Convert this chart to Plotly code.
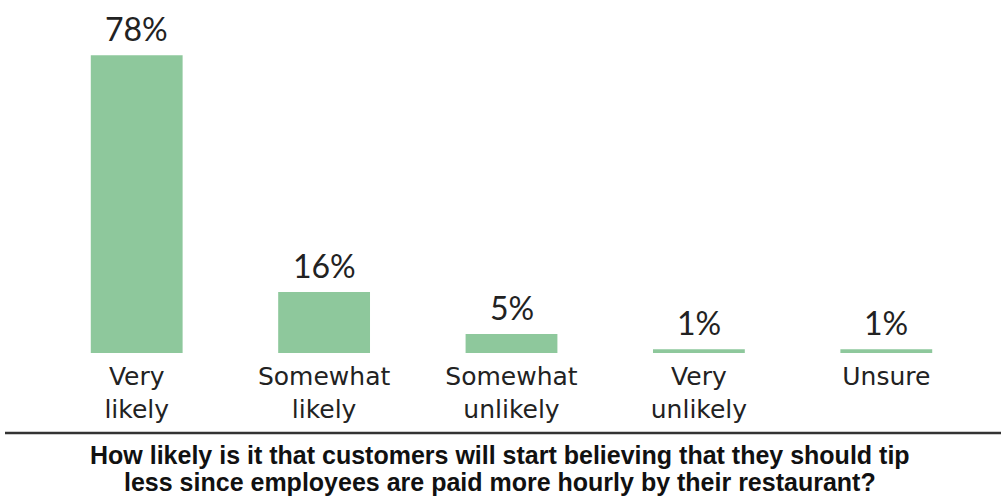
import plotly.graph_objects as go

categories = ["Very<br>likely", "Somewhat<br>likely", "Somewhat<br>unlikely", "Very<br>unlikely", "Unsure"]
values = [78, 16, 5, 1, 1]
value_labels = ["78%", "16%", "5%", "1%", "1%"]
title_lines = ["How likely is it that customers will start believing that they should tip",
               "less since employees are paid more hourly by their restaurant?"]

W, H = 1001, 497
ML, MR, MT, MB = 43, 21, 20, 144
BAR_COLOR = "#8ec89c"
TEXT_COLOR = "#222222"
LABEL_FONT = "DejaVu Sans, sans-serif"
VALUE_FONT = "Lato, sans-serif"
TITLE_FONT = "Liberation Sans, Arial, sans-serif"

fig = go.Figure()
fig.add_trace(go.Bar(
    x=categories, y=values, width=0.49,
    marker=dict(color=BAR_COLOR, line=dict(width=0)),
    hoverinfo="skip",
))

for c, v, t in zip(categories, values, value_labels):
    fig.add_annotation(x=c, y=v, text=t, showarrow=False, yanchor="bottom",
                       yshift=5, font=dict(family=VALUE_FONT, size=32, color=TEXT_COLOR))

plot_h = H - MT - MB
plot_w = W - ML - MR
base_px = H - MB


def py(px):
    return (base_px - px) / plot_h


fig.add_shape(type="line", xref="paper", yref="paper",
              x0=-(ML - 5) / plot_w, x1=(W - ML) / plot_w,
              y0=py(433), y1=py(433),
              line=dict(color="#333333", width=2.5))

for line, cy in zip(title_lines, [455, 482]):
    fig.add_annotation(xref="paper", yref="paper", x=(500 - ML) / plot_w, y=py(cy),
                       text="<b>" + line + "</b>", showarrow=False,
                       xanchor="center", yanchor="middle",
                       font=dict(family=TITLE_FONT, size=25, color="#111111"))

fig.update_layout(
    width=W, height=H,
    margin=dict(l=ML, r=MR, t=MT, b=MB),
    paper_bgcolor="white", plot_bgcolor="white",
    showlegend=False,
    xaxis=dict(showgrid=False, zeroline=False, showline=False, ticks="",
               ticklabelstandoff=6,
               tickfont=dict(family=LABEL_FONT, size=25, color=TEXT_COLOR)),
    yaxis=dict(range=[0, 87.2], visible=False, showgrid=False, zeroline=False),
)

fig.write_html("out.html", config={"displayModeBar": False},
               post_script="document.body.style.margin='0';document.body.style.overflow='hidden';")
